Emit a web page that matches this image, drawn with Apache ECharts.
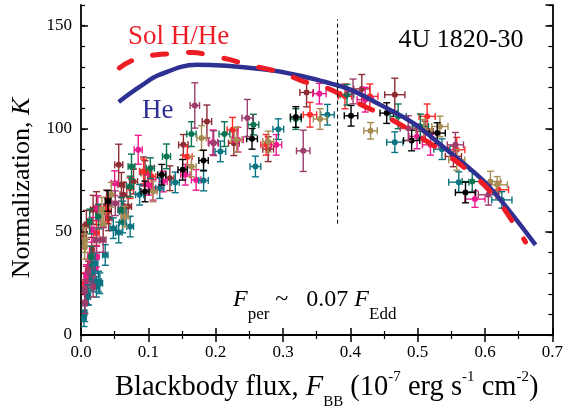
<!DOCTYPE html>
<html>
<head>
<meta charset="utf-8">
<script src="https://cdn.jsdelivr.net/npm/echarts@6/dist/echarts.min.js"></script>
<style>
html, body { margin: 0; padding: 0; background: #fff; }
#chart { width: 566px; height: 414px; }
</style>
</head>
<body>
<div id="chart"></div>
<script>
// axis ranges / ticks
const xRange = [0, 0.7];
const yRange = [0, 160];
const yMajorStep = 50;
const yMinorStep = 10;

// model curves: F_BB vs K
const heX = [0.056, 0.088, 0.117, 0.172, 0.276, 0.335, 0.370, 0.400, 0.444, 0.493, 0.543, 0.593, 0.623, 0.675];
const heK = [113, 120.5, 126.2, 131, 128.6, 125, 122, 119, 111.7, 102.8, 89.8, 76.2, 65.5, 43.7];

const solX = [0.057, 0.077, 0.112, 0.137, 0.166, 0.187, 0.221, 0.246, 0.276, 0.300, 0.330, 0.355, 0.390, 0.420, 0.455, 0.506, 0.566, 0.612, 0.652, 0.660];
const solK = [129.5, 133.2, 135.9, 136.4, 137.0, 135.9, 133.5, 131.1, 129.0, 127.0, 123.0, 121.0, 116.0, 111.0, 105.6, 95.5, 82.0, 68.0, 49.5, 45.1];

// touchdown marker (dashed vertical)
const touchX = 0.381;
const touchK = [54, 153];

// bursts, one array per colour: [F_BB, K, dF, dK]
const maroonPts = [
  [0.003, 47.7, 0.003, 6], [0.008, 28.3, 0.003, 5], [0.008, 53.4, 0.003, 7], [0.013, 34.0, 0.003, 6],
  [0.016, 41.3, 0.003, 6], [0.018, 60.7, 0.004, 7], [0.023, 61.5, 0.004, 8], [0.038, 62.3, 0.004, 8],
  [0.040, 59.9, 0.005, 6], [0.041, 56.6, 0.005, 6], [0.056, 82.5, 0.006, 10], [0.060, 72.8, 0.005, 6],
  [0.063, 68.0, 0.005, 6], [0.070, 62.3, 0.005, 5], [0.078, 74.4, 0.006, 6], [0.093, 79.3, 0.006, 7],
  [0.095, 78.5, 0.006, 6], [0.132, 76.0, 0.006, 6], [0.152, 92.2, 0.007, 5], [0.187, 103.5, 0.007, 8],
  [0.227, 93.0, 0.008, 6], [0.278, 90.1, 0.008, 6], [0.335, 117.6, 0.010, 7], [0.417, 119.3, 0.012, 7],
  [0.466, 116.5, 0.015, 8], [0.511, 98.7, 0.012, 5], [0.553, 86.6, 0.012, 5]
];
const redPts = [
  [0.006, 25.1, 0.003, 5], [0.010, 31.6, 0.003, 5], [0.023, 49.4, 0.004, 6], [0.038, 60.7, 0.004, 6],
  [0.073, 71.2, 0.005, 5], [0.093, 79.3, 0.006, 6], [0.105, 76.8, 0.006, 5], [0.158, 86.4, 0.007, 5],
  [0.225, 99.5, 0.008, 6], [0.275, 92.2, 0.008, 5], [0.340, 106.8, 0.010, 6], [0.392, 115.7, 0.010, 6],
  [0.429, 115.7, 0.012, 6], [0.514, 106.0, 0.012, 6], [0.558, 89.8, 0.012, 6], [0.620, 70.4, 0.015, 4]
];
const magentaPts = [
  [0.008, 20.2, 0.003, 5], [0.008, 29.1, 0.003, 5], [0.013, 38.0, 0.003, 5], [0.016, 51.0, 0.003, 6],
  [0.021, 31.6, 0.004, 5], [0.023, 38.0, 0.004, 5], [0.025, 61.5, 0.004, 6], [0.050, 73.6, 0.005, 6],
  [0.060, 60.7, 0.005, 6], [0.085, 89.8, 0.006, 7], [0.100, 72.8, 0.006, 5], [0.107, 70.4, 0.006, 5],
  [0.122, 74.4, 0.006, 5], [0.155, 77.7, 0.007, 5], [0.171, 75.2, 0.007, 5], [0.196, 93.4, 0.007, 6],
  [0.233, 94.7, 0.008, 6], [0.290, 92.2, 0.008, 5], [0.354, 117.0, 0.010, 5], [0.422, 114.1, 0.012, 6],
  [0.499, 96.3, 0.012, 6], [0.519, 92.2, 0.012, 5], [0.585, 65.9, 0.015, 4]
];
const tealPts = [
  [0.0045, 8.1, 0.003, 4], [0.0055, 10.5, 0.003, 4], [0.010, 19.4, 0.003, 5], [0.011, 18.6, 0.003, 4],
  [0.015, 26.7, 0.003, 5], [0.016, 29.1, 0.003, 5], [0.018, 25.9, 0.003, 5], [0.021, 34.8, 0.004, 5],
  [0.023, 23.4, 0.004, 5], [0.026, 25.9, 0.004, 5], [0.028, 25.1, 0.004, 5], [0.036, 38.8, 0.004, 5],
  [0.048, 51.8, 0.005, 5], [0.056, 49.7, 0.005, 5], [0.062, 54.5, 0.005, 5], [0.062, 59.9, 0.005, 5],
  [0.073, 52.6, 0.005, 5], [0.087, 68.0, 0.006, 5], [0.117, 71.2, 0.006, 5], [0.140, 74.0, 0.006, 5],
  [0.182, 74.9, 0.007, 5], [0.207, 89.0, 0.008, 5], [0.259, 81.7, 0.008, 5], [0.293, 99.8, 0.008, 5],
  [0.366, 106.8, 0.010, 5], [0.466, 93.5, 0.012, 5], [0.536, 90.1, 0.012, 5], [0.561, 74.1, 0.015, 5],
  [0.625, 65.5, 0.015, 4]
];
const greenPts = [
  [0.013, 55.0, 0.003, 6], [0.015, 38.0, 0.003, 5], [0.026, 57.4, 0.004, 6], [0.060, 60.7, 0.005, 6],
  [0.073, 72.0, 0.005, 5], [0.075, 81.7, 0.005, 6], [0.103, 80.9, 0.006, 5], [0.127, 86.6, 0.006, 6],
  [0.164, 97.4, 0.007, 6], [0.213, 97.4, 0.008, 6], [0.256, 102.0, 0.008, 5], [0.319, 104.7, 0.008, 5],
  [0.395, 116.5, 0.010, 5], [0.471, 106.0, 0.012, 6], [0.504, 101.1, 0.012, 6], [0.581, 74.4, 0.015, 5]
];
const olivePts = [
  [0.0055, 42.9, 0.003, 6], [0.006, 46.1, 0.003, 6], [0.031, 60.7, 0.004, 6], [0.033, 53.4, 0.004, 6],
  [0.045, 68.0, 0.005, 6], [0.065, 57.4, 0.005, 5], [0.107, 69.6, 0.006, 5], [0.164, 81.7, 0.007, 5],
  [0.179, 95.5, 0.007, 6], [0.231, 94.7, 0.008, 6], [0.278, 93.8, 0.008, 5], [0.355, 104.7, 0.010, 5],
  [0.430, 99.0, 0.010, 4], [0.509, 99.5, 0.012, 5], [0.533, 101.1, 0.012, 5], [0.558, 84.9, 0.012, 5],
  [0.608, 74.4, 0.015, 5], [0.618, 72.8, 0.015, 4]
];
const blackPts = [
  [0.040, 65.0, 0.004, 5], [0.095, 69.6, 0.006, 5], [0.120, 77.7, 0.006, 5], [0.151, 80.1, 0.007, 5],
  [0.182, 84.6, 0.007, 5], [0.254, 95.1, 0.008, 5], [0.319, 105.7, 0.008, 5], [0.401, 106.3, 0.010, 5],
  [0.454, 107.6, 0.010, 5], [0.491, 94.3, 0.012, 5], [0.529, 97.9, 0.012, 5], [0.571, 69.1, 0.015, 5]
];
const purplePts = [
  [0.0055, 21.8, 0.003, 5], [0.006, 15.4, 0.003, 5], [0.011, 30.7, 0.003, 5], [0.018, 23.4, 0.003, 5],
  [0.023, 46.1, 0.004, 6], [0.033, 46.1, 0.004, 6], [0.051, 63.9, 0.005, 6], [0.169, 111.3, 0.007, 11],
  [0.197, 93.0, 0.007, 6], [0.247, 105.2, 0.008, 9], [0.330, 89.3, 0.010, 10], [0.404, 118.1, 0.010, 6],
  [0.486, 100.3, 0.012, 6], [0.556, 92.2, 0.012, 6], [0.605, 68.0, 0.015, 5]
];

const serif = 'Liberation Serif';

const groups = [
  ['maroon', maroonPts, '#8e2c34'],
  ['red', redPts, '#ff2a2a'],
  ['magenta', magentaPts, '#ec1a8c'],
  ['teal', tealPts, '#0b7482'],
  ['green', greenPts, '#0a7352'],
  ['olive', olivePts, '#a68c52'],
  ['black', blackPts, '#000000'],
  ['purple', purplePts, '#9c3d6c']
];

// error bar with caps + filled dot
function errorBars(color) {
  return function (params, api) {
    const x = api.value(0), y = api.value(1), xe = api.value(2), ye = api.value(3);
    const c = api.coord([x, y]);
    const l = api.coord([x - xe, y]);
    const r = api.coord([x + xe, y]);
    const t = api.coord([x, y + ye]);
    const b = api.coord([x, y - ye]);
    const cap = 3.5;
    const st = { stroke: color, lineWidth: 1.4 };
    const seg = (x1, y1, x2, y2) => ({ type: 'line', shape: { x1, y1, x2, y2 }, style: st });
    return {
      type: 'group',
      children: [
        seg(l[0], c[1], r[0], c[1]),
        seg(c[0], t[1], c[0], b[1]),
        seg(l[0], c[1] - cap, l[0], c[1] + cap),
        seg(r[0], c[1] - cap, r[0], c[1] + cap),
        seg(c[0] - cap, t[1], c[0] + cap, t[1]),
        seg(c[0] - cap, b[1], c[0] + cap, b[1]),
        { type: 'circle', shape: { cx: c[0], cy: c[1], r: 3 }, style: { fill: color } }
      ]
    };
  };
}

const series = groups.map(g => ({
  name: g[0],
  type: 'custom',
  renderItem: errorBars(g[2]),
  data: g[1],
  encode: { x: 0, y: 1 },
  clip: true,
  z: 2
}));

series.push({
  name: 'He',
  type: 'line',
  data: heX.map((x, i) => [x, heK[i]]),
  smooth: 0.4,
  symbol: 'none',
  lineStyle: { color: '#2e3192', width: 4.5 },
  z: 3
});
series.push({
  name: 'Sol H/He',
  type: 'line',
  data: solX.map((x, i) => [x, solK[i]]),
  smooth: 0.4,
  symbol: 'none',
  lineStyle: { color: '#ee1c25', width: 5, type: [14, 22], cap: 'round' },
  z: 4
});
series.push({
  name: 'touchdown',
  type: 'line',
  data: touchK.map(k => [touchX, k]),
  symbol: 'none',
  lineStyle: { color: '#000', width: 1, type: [4, 3] },
  z: 4
});

const axisLine = { show: true, lineStyle: { color: '#000', width: 1.8 } };
const lblStyle = { color: '#000', fontSize: 17, fontFamily: serif, margin: 9 };

const option = {
  animation: false,
  backgroundColor: '#fff',
  textStyle: { fontFamily: serif },
  grid: { left: 81, top: 5, width: 473, height: 330 },
  xAxis: [
    {
      type: 'value', min: xRange[0], max: xRange[1], interval: 0.1, position: 'bottom',
      axisLine, splitLine: { show: false },
      axisTick: { inside: true, length: 7, lineStyle: { color: '#000', width: 1.5 } },
      minorTick: { show: true, splitNumber: 2, length: 4, lineStyle: { color: '#000', width: 1.2 } },
      axisLabel: Object.assign({ formatter: v => v.toFixed(1) }, lblStyle)
    },
    {
      type: 'value', min: xRange[0], max: xRange[1], interval: 0.1, position: 'top',
      axisLine, splitLine: { show: false },
      axisTick: { inside: true, length: 7, lineStyle: { color: '#000', width: 1.5 } },
      minorTick: { show: true, splitNumber: 2, length: 4, lineStyle: { color: '#000', width: 1.2 } },
      axisLabel: { show: false }
    }
  ],
  yAxis: [
    {
      type: 'value', min: yRange[0], max: yRange[1], interval: yMajorStep, position: 'left',
      axisLine, splitLine: { show: false },
      axisTick: { inside: true, length: 7, lineStyle: { color: '#000', width: 1.5 } },
      axisLabel: Object.assign({ showMaxLabel: false }, lblStyle)
    },
    {
      type: 'value', min: yRange[0], max: yRange[1], interval: yMinorStep, position: 'left',
      axisLine: { show: false }, splitLine: { show: false },
      axisTick: { inside: true, length: 4, lineStyle: { color: '#000', width: 1.2 } },
      axisLabel: { show: false }
    },
    {
      type: 'value', min: yRange[0], max: yRange[1], interval: yMajorStep, position: 'right',
      axisLine, splitLine: { show: false },
      axisTick: { inside: true, length: 7, lineStyle: { color: '#000', width: 1.5 } },
      axisLabel: { show: false }
    },
    {
      type: 'value', min: yRange[0], max: yRange[1], interval: yMinorStep, position: 'right',
      axisLine: { show: false }, splitLine: { show: false },
      axisTick: { inside: true, length: 4, lineStyle: { color: '#000', width: 1.2 } },
      axisLabel: { show: false }
    }
  ],
  graphic: [
    {
      type: 'text', x: 461, y: 40,
      style: { text: '4U 1820-30', font: '26px "Liberation Serif"', fill: '#000', align: 'center', verticalAlign: 'middle' }
    },
    {
      type: 'text', x: 128, y: 37,
      style: { text: 'Sol H/He', font: '27px "Liberation Serif"', fill: '#ee1c25', align: 'left', verticalAlign: 'middle' }
    },
    {
      type: 'text', x: 142, y: 111,
      style: { text: 'He', font: '27px "Liberation Serif"', fill: '#2e3192', align: 'left', verticalAlign: 'middle' }
    },
    {
      type: 'text', x: 233, y: 300,
      style: {
        text: '{i|F}{sub|per} ~   0.07 {i|F}{sub|Edd}',
        font: '24px "Liberation Serif"', fill: '#000', align: 'left', verticalAlign: 'middle',
        rich: {
          i: { fontSize: 24, fontFamily: serif, fontStyle: 'italic', fill: '#000' },
          sub: { fontSize: 17, fontFamily: serif, fill: '#000', padding: [30, 0, 0, 0] }
        }
      }
    },
    {
      type: 'text', x: 115, y: 388,
      style: {
        text: 'Blackbody flux, {i|F}{sub|BB} (10{sup|-7} erg s{sup|-1} cm{sup|-2})',
        font: '28.5px "Liberation Serif"', fill: '#000', align: 'left', verticalAlign: 'middle',
        rich: {
          i: { fontSize: 28.5, fontFamily: serif, fontStyle: 'italic', fill: '#000' },
          sub: { fontSize: 15, fontFamily: serif, fill: '#000', padding: [28, 0, 0, 0] },
          sup: { fontSize: 15, fontFamily: serif, fill: '#000', padding: [0, 0, 21, 0] }
        }
      }
    },
    {
      type: 'text', x: 22, y: 188, rotation: Math.PI / 2,
      style: {
        text: 'Normalization, {i|K}',
        font: '26px "Liberation Serif"', fill: '#000', align: 'center', verticalAlign: 'middle',
        rich: {
          i: { fontSize: 26, fontFamily: serif, fontStyle: 'italic', fill: '#000' }
        }
      }
    }
  ],
  series
};

const chart = echarts.init(document.getElementById('chart'), null, { renderer: 'canvas' });
chart.setOption(option);
</script>
</body>
</html>
